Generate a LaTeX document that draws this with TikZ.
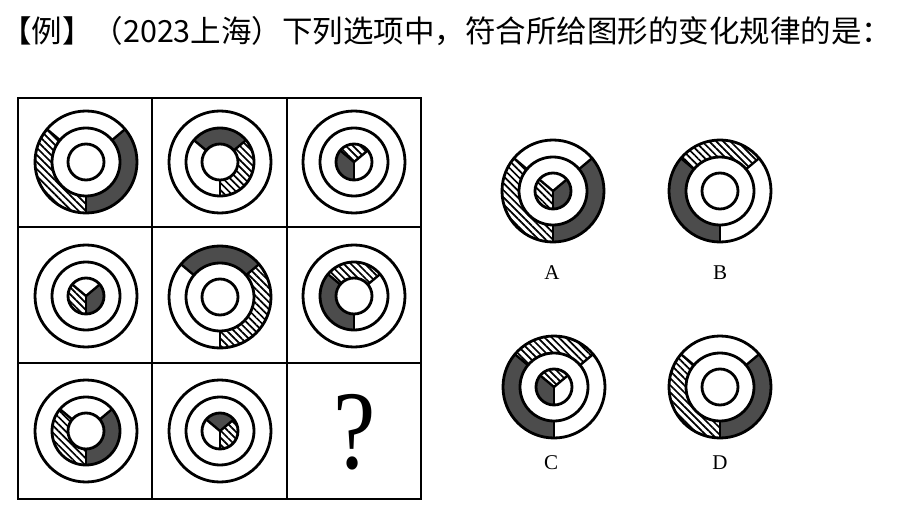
\documentclass[tikz,border=0pt]{standalone}
\usepackage{fontspec}
\setmainfont{Liberation Serif}
\newfontfamily\cjk{Noto Sans CJK SC}
\usetikzlibrary{patterns.meta}
\tikzset{
  gfill/.style={fill=black!70},
  hfill/.style={pattern={Lines[angle=-45,distance=5pt,line width=1.7pt]}},
  wfill/.style={fill=white},
  circ/.style={draw=black,line width=2.8pt},
  divline/.style={draw=black,line width=2.4pt},
  grid/.style={draw=black,line width=2.6pt},
  lbl/.style={font=\fontsize{21}{21}\selectfont,inner sep=0pt},
}
% ring segment: center, rin, rout, a1, a2, style
\newcommand{\seg}[6]{\path[#6] ([shift={(#4:#3pt)}]#1) arc[start angle=#4,end angle=#5,radius=#3pt] -- ([shift={(#5:#2pt)}]#1) arc[start angle=#5,end angle=#4,radius=#2pt] -- cycle;}
% pie sector: center, r, a1, a2, style
\newcommand{\pseg}[5]{\path[#5] (#1) -- ([shift={(#3:#2pt)}]#1) arc[start angle=#3,end angle=#4,radius=#2pt] -- cycle;}
% three-part ring: center, rin, rout, top, left, right
\newcommand{\tring}[6]{%
  \seg{#1}{#2}{#3}{40}{140}{#4}
  \seg{#1}{#2}{#3}{140}{270}{#5}
  \seg{#1}{#2}{#3}{-90}{40}{#6}
  \draw[divline] ([shift={(40:#2pt)}]#1) -- ([shift={(40:#3pt)}]#1);
  \draw[divline] ([shift={(140:#2pt)}]#1) -- ([shift={(140:#3pt)}]#1);
  \draw[divline] ([shift={(270:#2pt)}]#1) -- ([shift={(270:#3pt)}]#1);}
% three-part disk: center, r, top, left, right
\newcommand{\tpie}[5]{%
  \pseg{#1}{#2}{40}{140}{#3}
  \pseg{#1}{#2}{140}{270}{#4}
  \pseg{#1}{#2}{-90}{40}{#5}
  \draw[divline] (#1) -- ([shift={(40:#2pt)}]#1);
  \draw[divline] (#1) -- ([shift={(140:#2pt)}]#1);
  \draw[divline] (#1) -- ([shift={(270:#2pt)}]#1);}
\newcommand{\circs}[1]{%
  \draw[circ] (#1) circle[radius=51pt];
  \draw[circ] (#1) circle[radius=34pt];
  \draw[circ] (#1) circle[radius=18pt];}
\begin{document}
\begin{tikzpicture}[x=1pt,y=1pt]
\useasboundingbox[fill=white] (0,0) rectangle (900,507);
% title
\node[anchor=west,inner sep=0pt,font=\cjk\fontsize{30.5}{30.5}\selectfont] (title) at (1,476) {【例】（2023上海）下列选项中，符合所给图形的变化规律的是：};
% grid
\draw[grid] (18,8) rectangle (421,409);
\draw[grid] (152,8) -- (152,409);
\draw[grid] (287,8) -- (287,409);
\draw[grid] (18,280) -- (421,280);
\draw[grid] (18,144) -- (421,144);
% centers
\coordinate (c1) at (86,345);
\coordinate (c2) at (220,345);
\coordinate (c3) at (354,345);
\coordinate (c4) at (86,211);
\coordinate (c5) at (220,210);
\coordinate (c6) at (354,211);
\coordinate (c7) at (86,76);
\coordinate (c8) at (220,76);
\coordinate (oa) at (553,316);
\coordinate (ob) at (720,316);
\coordinate (oc) at (554,120);
\coordinate (od) at (720,120);
% row 1
\tring{c1}{34}{51}{wfill}{hfill}{gfill}
\circs{c1}
\tring{c2}{18}{34}{gfill}{wfill}{hfill}
\circs{c2}
\tpie{c3}{18}{hfill}{gfill}{wfill}
\circs{c3}
% row 2
\tpie{c4}{18}{wfill}{hfill}{gfill}
\circs{c4}
\tring{c5}{34}{51}{gfill}{wfill}{hfill}
\circs{c5}
\tring{c6}{18}{34}{hfill}{gfill}{wfill}
\circs{c6}
% row 3
\tring{c7}{18}{34}{wfill}{hfill}{gfill}
\circs{c7}
\tpie{c8}{18}{gfill}{wfill}{hfill}
\circs{c8}
\node[inner sep=0pt,font=\fontsize{112}{112}\selectfont,xscale=0.85] (q) at (355,75) {?};
% options
\tring{oa}{34}{51}{wfill}{hfill}{gfill}
\tpie{oa}{18}{wfill}{hfill}{gfill}
\circs{oa}
\tring{ob}{34}{51}{hfill}{gfill}{wfill}
\circs{ob}
\tring{oc}{34}{51}{hfill}{gfill}{wfill}
\tpie{oc}{18}{hfill}{gfill}{wfill}
\circs{oc}
\tring{od}{34}{51}{wfill}{hfill}{gfill}
\circs{od}
\node[lbl] (la) at (552,234) {A};
\node[lbl] (lb) at (720,234) {B};
\node[lbl] (lc) at (551,44) {C};
\node[lbl] (ld) at (720,44) {D};
\end{tikzpicture}
\end{document}
